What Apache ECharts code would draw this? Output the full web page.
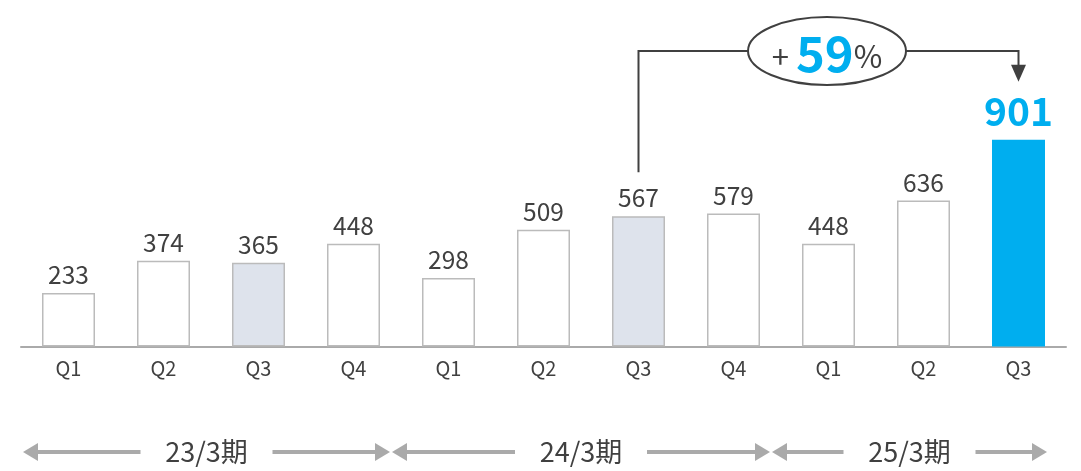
<!DOCTYPE html>
<html>
<head>
<meta charset="utf-8">
<script src="https://cdn.jsdelivr.net/npm/echarts@6/dist/echarts.min.js"></script>
<style>
  html, body { margin: 0; padding: 0; background: #fff; }
  #main { width: 1081px; height: 471px; }
</style>
</head>
<body>
<div id="main"></div>
<script>
// quarterly values
var quarters = ['Q1', 'Q2', 'Q3', 'Q4', 'Q1', 'Q2', 'Q3', 'Q4', 'Q1', 'Q2', 'Q3'];
var values = [233, 374, 365, 448, 298, 509, 567, 579, 448, 636, 901];
var periods = ['23/3期', '24/3期', '25/3期'];
var periodSize = [4, 4, 3];
var growthText = '59';
var compareFrom = 6, compareTo = 10;

var FONT = '"Noto Sans CJK JP", "Noto Sans", sans-serif';
var TXT = '#404040';
var BLUE = '#00AEEF';

var chart = echarts.init(document.getElementById('main'));

var barData = values.map(function (v, i) {
  var item = { value: v };
  if (i == values.length - 1) {
    item.itemStyle = { color: BLUE, borderWidth: 0 };
    item.label = { fontSize: 39, fontWeight: 'bold', color: BLUE, distance: 9 };
  } else if (quarters[i] == 'Q3') {
    item.itemStyle = { color: '#dee3ec' };
  }
  return item;
});

var option = {
  animation: false,
  grid: { left: 21, right: 15, top: 117, bottom: 124.5, containLabel: false },
  xAxis: {
    type: 'category',
    data: quarters,
    axisLine: { lineStyle: { color: '#aaaaaa', width: 2 } },
    axisTick: { show: false },
    axisLabel: { color: TXT, fontSize: 20, fontFamily: FONT, margin: 12 }
  },
  yAxis: {
    type: 'value', min: 0, max: 1000,
    show: false,
    splitLine: { show: false }
  },
  series: [{
    type: 'bar',
    data: barData,
    barWidth: 53,
    itemStyle: { color: '#ffffff', borderColor: '#bbbbbb', borderWidth: 1.5 },
    label: {
      show: true, position: 'top', distance: 6,
      color: TXT, fontSize: 24.5, fontFamily: FONT
    }
  }]
};
chart.setOption(option);

// annotations placed from the axis scales
function px(i, v) { return chart.convertToPixel({ seriesIndex: 0 }, [i, v]); }
var g = [];
var lineStyle = { stroke: TXT, lineWidth: 2, fill: null };

var x1 = px(compareFrom, 0)[0], x2 = px(compareTo, 0)[0];
var yTop1 = px(compareFrom, values[compareFrom])[1] - 44;
var yBar2 = px(compareTo, values[compareTo])[1];
var ly = 51, ecx = 827, erx = 79, ery = 34;

g.push({ type: 'polyline', shape: { points: [[x1, yTop1], [x1, ly], [ecx - erx, ly]] }, style: lineStyle });
g.push({ type: 'polyline', shape: { points: [[ecx + erx, ly], [x2, ly], [x2, yBar2 - 74]] }, style: lineStyle });
g.push({ type: 'polygon', shape: { points: [[x2 - 7.5, yBar2 - 75], [x2 + 7.5, yBar2 - 75], [x2, yBar2 - 58]] }, style: { fill: TXT } });
g.push({ type: 'ellipse', shape: { cx: ecx, cy: ly, rx: erx, ry: ery }, style: { stroke: TXT, lineWidth: 2, fill: '#fff' } });
g.push({
  type: 'text', x: ecx, y: ly + 2,
  style: {
    text: '{a|+ }{b|' + growthText + '}{a|%}',
    align: 'center', verticalAlign: 'middle', fontFamily: FONT,
    rich: {
      a: { fontSize: 31, fill: TXT, fontFamily: FONT, padding: [6, 0, 0, 0] },
      b: { fontSize: 49, fontWeight: 'bold', fill: BLUE, fontFamily: FONT }
    }
  }
});

// period arrows under the axis
var band = px(1, 0)[0] - px(0, 0)[0];
var ay = 452, grey = '#aaaaaa';
var start = 0;
for (var p = 0; p < periods.length; p++) {
  var leftEdge = px(start, 0)[0] - band / 2;
  var rightEdge = px(start + periodSize[p] - 1, 0)[0] + band / 2;
  var l = p == 0 ? leftEdge + 2 : leftEdge - 9;
  var r = p == periods.length - 1 ? rightEdge - 19 : rightEdge - 11;
  var mid = (l + r) / 2;
  var half = 43 + 23;
  g.push({ type: 'line', shape: { x1: l + 14, y1: ay, x2: mid - half, y2: ay }, style: { stroke: grey, lineWidth: 4 } });
  g.push({ type: 'line', shape: { x1: mid + half, y1: ay, x2: r - 14, y2: ay }, style: { stroke: grey, lineWidth: 4 } });
  g.push({ type: 'polygon', shape: { points: [[l, ay], [l + 15, ay - 9], [l + 15, ay + 9]] }, style: { fill: grey } });
  g.push({ type: 'polygon', shape: { points: [[r, ay], [r - 15, ay - 9], [r - 15, ay + 9]] }, style: { fill: grey } });
  g.push({
    type: 'text', x: mid, y: ay,
    style: { text: periods[p], fill: TXT, fontSize: 27, fontFamily: FONT, align: 'center', verticalAlign: 'middle' }
  });
  start += periodSize[p];
}

chart.setOption({ graphic: g });
</script>
</body>
</html>
